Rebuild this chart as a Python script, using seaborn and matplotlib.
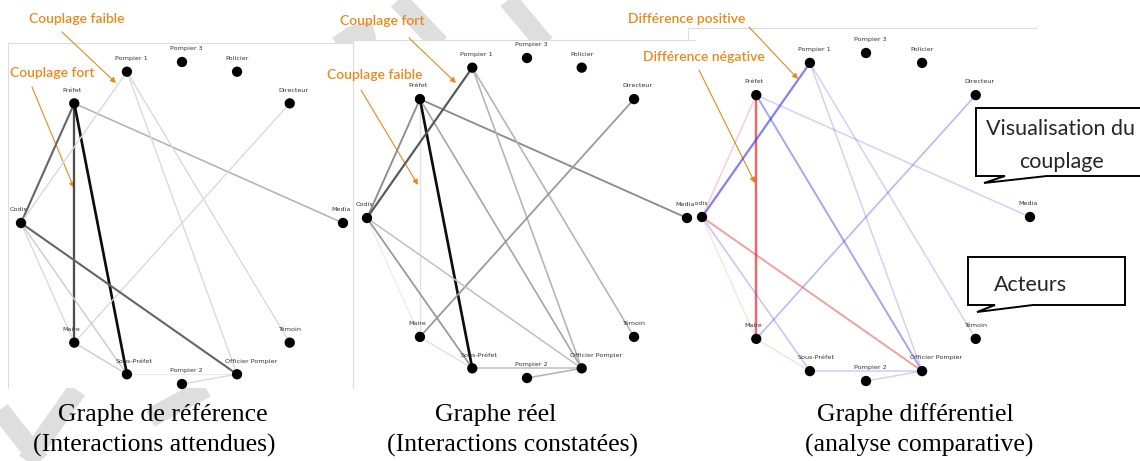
import numpy as np
import pandas as pd
import matplotlib.pyplot as plt
import seaborn as sns
from matplotlib.patches import Polygon, Rectangle

sns.set_theme(style="white")
plt.rcParams['font.family'] = ['DejaVu Sans']

# Acteurs et leur position angulaire (degrés) sur le cercle
acteurs = ["Media", "Directeur", "Policier", "Pompier 3", "Pompier 1", "Préfet",
           "Codis", "Maire", "Sous-Préfet", "Pompier 2", "Officier Pompier", "Témoin"]
angles = [0, 48, 70, 90, 110, 132, 180, 228, 250, 270, 290, 312]

# Liens entre acteurs et intensité du couplage (0 = aucun, 1 = très fort)
source = ["Préfet", "Préfet", "Préfet", "Préfet", "Préfet",
          "Pompier 1", "Pompier 1", "Pompier 1", "Directeur",
          "Codis", "Codis", "Codis", "Maire", "Sous-Préfet", "Pompier 2"]
cible = ["Codis", "Maire", "Sous-Préfet", "Media", "Officier Pompier",
         "Codis", "Officier Pompier", "Témoin", "Maire",
         "Maire", "Sous-Préfet", "Officier Pompier", "Sous-Préfet", "Officier Pompier", "Officier Pompier"]
couplage_attendu = [0.60, 0.70, 0.95, 0.30, 0.00, 0.15, 0.15, 0.15, 0.15,
                    0.15, 0.20, 0.60, 0.20, 0.08, 0.15]
couplage_constate = [0.45, 0.12, 0.95, 0.45, 0.35, 0.65, 0.30, 0.30, 0.40,
                     0.08, 0.40, 0.25, 0.12, 0.25, 0.30]

legendes = [("Graphe de référence", "(Interactions attendues)"),
            ("Graphe réel", "(Interactions constatées)"),
            ("Graphe différentiel", "(analyse comparative)")]

ORANGE = "#E8891C"
W, H = 1140, 461

noeuds = pd.DataFrame({"acteur": acteurs, "angle": angles})
noeuds["x"] = np.cos(np.radians(noeuds["angle"]))
noeuds["y"] = np.sin(np.radians(noeuds["angle"]))
pos = noeuds.set_index("acteur")[["x", "y"]]

liens = pd.DataFrame({"source": source, "cible": cible,
                      "attendu": couplage_attendu, "constate": couplage_constate})
liens["diff"] = liens["constate"] - liens["attendu"]

fig = plt.figure(figsize=(W / 100, H / 100), dpi=100)

# calque de fond en coordonnées pixels (cadres, annotations, légendes)
bg = fig.add_axes([0, 0, 1, 1])
bg.set_xlim(0, W)
bg.set_ylim(H, 0)
bg.axis("off")

# traits gris du filigrane
filigrane = [[(398, 0), (440, 44)], [(508, 0), (545, 44)], [(338, 46), (352, 36), (374, 30)],
             [(77, 390), (27, 461)], [(0, 410), (40, 461)], [(206, 388), (150, 418)]]
for tr in filigrane:
    xs, ys = zip(*tr)
    bg.plot(xs, ys, color="#dedede", lw=14, solid_capstyle="butt", zorder=0)

# panneaux blancs et cadres gris
for (x0, y0, w, h) in [(8, 43, 345, 345), (353, 40, 340, 350), (688, 28, 349, 362)]:
    bg.add_patch(Rectangle((x0, y0), w, h, facecolor="white", edgecolor="none", zorder=1))
bg.plot([8, 8, 353, 353], [388, 43, 43, 388], color="#dddddd", lw=0.8, zorder=2)
bg.plot([353, 353, 695], [388, 40, 40], color="#dddddd", lw=0.8, zorder=2)
bg.plot([688, 688, 1037], [40, 28, 28], color="#dddddd", lw=0.8, zorder=2)

# zone visible du 3e graphe (le bord gauche est recouvert par le 2e)
zone3 = Rectangle((695, 0), 450, 400, transform=bg.transData, visible=False)
bg.add_patch(zone3)

# centre et rayon (pixels) de chaque graphe, début des lignes de légende
panneaux = [(182, 223, 161), (527, 218, 160), (866, 217, 164)]
debut_legende = [(58, 33), (435, 387), (817, 805)]
L = 1.3


def couleur(i, ligne):
    if i < 2:
        w = ligne["attendu"] if i == 0 else ligne["constate"]
        if w <= 0:
            return None, 0
        g = 1 - w
        return (g, g, g, 1), 0.8 + 1.2 * w
    d = ligne["diff"]
    if abs(d) < 0.01:
        return None, 0
    a = min(1, 0.06 + 1.1 * abs(d))
    base = (0.2, 0.2, 0.9) if d > 0 else (0.9, 0.15, 0.15)
    return base + (a,), 0.9 + 1.4 * abs(d)


for i, (cx, cy, r) in enumerate(panneaux):
    ax = fig.add_axes([(cx - L * r) / W, 1 - (cy + L * r) / H, 2 * L * r / W, 2 * L * r / H])
    ax.set_xlim(-L, L)
    ax.set_ylim(-L, L)
    ax.axis("off")
    ax.patch.set_alpha(0)
    for _, ligne in liens.iterrows():
        c, lw = couleur(i, ligne)
        if c is None:
            continue
        p, q = pos.loc[ligne["source"]], pos.loc[ligne["cible"]]
        ax.plot([p.x, q.x], [p.y, q.y], color=c, lw=lw, solid_capstyle="butt", zorder=1)
    sns.scatterplot(data=noeuds, x="x", y="y", color="black", s=55, edgecolor="none",
                    ax=ax, zorder=3, clip_on=False, legend=False)
    for _, n in noeuds.iterrows():
        t = ax.annotate(n["acteur"], (n["x"], n["y"]), xytext=(-8.5, 9.5), textcoords="offset points",
                        ha="left", va="center", fontsize=4.6, color="#333333", zorder=4)
        if i == 2:
            t.set_clip_path(zone3)
    ax.set_xlabel("")
    ax.set_ylabel("")
    x1, x2 = debut_legende[i]
    bg.text(x1, 415, legendes[i][0], ha="left", va="center", fontsize=18.5,
            family="Liberation Serif", color="black")
    bg.text(x2, 445, legendes[i][1], ha="left", va="center", fontsize=18.5,
            family="Liberation Serif", color="black")

# annotations orange
notes = [("Couplage faible", (29, 19), (62, 32), (116, 83)),
         ("Couplage fort", (10, 73), (32, 87), (74, 188)),
         ("Couplage fort", (340, 21), (409, 38), (456, 83)),
         ("Couplage faible", (327, 75), (361, 90), (418, 185)),
         ("Différence positive", (628, 19), (749, 27), (798, 79)),
         ("Différence négative", (643, 57), (699, 70), (755, 183))]
for txt, (tx, ty), dep, arr in notes:
    bg.text(tx, ty, txt, ha="left", va="center", fontsize=10, family="Lato",
            fontweight="semibold", color=ORANGE, zorder=6)
    bg.annotate("", xy=arr, xytext=dep, zorder=6,
                arrowprops=dict(arrowstyle="-|>", color=ORANGE, lw=0.8, mutation_scale=8,
                                shrinkA=0, shrinkB=0))

# bulles de commentaire
bulles = [[(1141, 108), (976, 108), (976, 176), (1005, 176), (984, 183), (1047, 176), (1141, 176)],
          [(1125, 257), (968, 257), (968, 305), (995, 305), (977, 312), (1033, 305), (1125, 305)]]
for pts in bulles:
    bg.add_patch(Polygon(pts, closed=True, facecolor="white", edgecolor="black", lw=1.4, zorder=7))
bg.text(1061, 129, "Visualisation du", ha="center", va="center", fontsize=15.5, family="Lato", zorder=8)
bg.text(1061, 162, "couplage", ha="center", va="center", fontsize=15.5, family="Lato", zorder=8)
bg.text(1031, 285, "Acteurs", ha="center", va="center", fontsize=15.5, family="Lato", zorder=8)

fig.savefig("out.png", dpi=100)
